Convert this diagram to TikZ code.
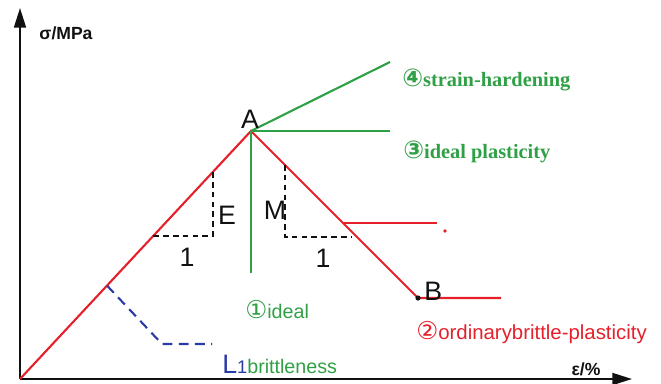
\documentclass[tikz,border=0pt]{standalone}
\usepackage{fontspec}
\setmainfont{Liberation Serif}
\setsansfont{Liberation Sans}
\newfontfamily\circfont{DejaVu Sans}
\usetikzlibrary{arrows.meta}
\definecolor{ink}{HTML}{111111}
\definecolor{curveRed}{HTML}{E5202A}
\definecolor{curveGreen}{HTML}{30A046}
\definecolor{curveBlue}{HTML}{2B3BA6}
\def\xmax{15.3}
\def\ymax{9.275}
\newcommand{\circnum}[1]{{\circfont\fontsize{17.5}{18}\selectfont #1}}

\begin{document}
\begin{tikzpicture}[
    axis/.style={-{Triangle[length=14pt,width=8.5pt]}, line width=1.4pt,
                 draw=ink},
    redcurve/.style={line width=1.5pt, draw=curveRed},
    greencurve/.style={line width=1.5pt, draw=curveGreen},
    bluedash/.style={line width=1.5pt, draw=curveBlue,
                     dash pattern=on 7pt off 4.5pt},
    slopedim/.style={line width=0.8pt, draw=ink,
                     dash pattern=on 4pt off 3pt},
    biglabel/.style={font=\sffamily\fontsize{19}{22}\selectfont,
                     inner sep=0pt, text=ink},
    axislabel/.style={font=\sffamily\bfseries\fontsize{12.5}{14}\selectfont,
                      inner sep=0pt, text=ink},
    ]
\useasboundingbox (-0.5,-0.1) rectangle (16.025,9.475);

% ====================================================================
% Axes
% ====================================================================
\coordinate (O) at (0,0);
\coordinate (xtip) at (\xmax,0);
\coordinate (ytip) at (0,\ymax);
\draw[axis] (O) -- (xtip);
\draw[axis] (O) -- (ytip);
\node[axislabel] (ylab) at (1.15,8.65) {σ/MPa};
\node[axislabel] (xlab) at (14.15,0.25) {ε/\%};

% ====================================================================
% Key points of the curves
% ====================================================================
\coordinate (A) at (5.775,6.2);
\coordinate (B) at (9.95,2.025);
\coordinate (hardEnd) at (9.25,7.925);
\coordinate (plastEnd) at (9.25,6.2);
\coordinate (idealEnd) at (5.775,2.65);
\coordinate (resEnd) at (12.025,2.025);
\coordinate (midStart) at (8.075,3.9);
\coordinate (midEnd) at (10.425,3.9);
\coordinate (L1) at (2.175,2.335);
\coordinate (Lknee) at (3.55,0.875);
\coordinate (Lend) at (4.8,0.875);

% Elastic branch and softening branch (red)
\draw[redcurve] (O) -- (A) -- (B) -- (resEnd);
\draw[redcurve] (midStart) -- (midEnd);
\fill[curveRed] (10.625,3.7) circle (0.045);

% Green branches from the peak
\draw[greencurve] (A) -- (hardEnd);
\draw[greencurve] (A) -- (plastEnd);
\draw[greencurve] (A) -- (idealEnd);

% Brittle branch (blue dashed)
\draw[bluedash] (L1) -- (Lknee) -- (Lend);

% Point B marker
\fill[ink] (B) circle (0.065);

% ====================================================================
% Slope triangles E and M
% ====================================================================
\draw[slopedim] (3.33,3.575) -- (4.825,3.575) -- (4.825,5.18);
\draw[slopedim] (6.625,5.35) -- (6.625,3.55) -- (8.3,3.55);
\node[biglabel] (Elab) at (5.175,4.1) {E};
\node[biglabel] (oneE) at (4.175,3.05) {1};
\node[biglabel] (Mlab) at (6.375,4.225) {M};
\node[biglabel] (oneM) at (7.575,3.025) {1};

% ====================================================================
% Labels
% ====================================================================
\node[biglabel, anchor=south] (Alab) at (5.75,6.25) {A};
\node[biglabel, anchor=base west] (Blab) at (10.1,1.97) {B};

\node[anchor=west, inner sep=0pt, text=curveGreen,
      font=\rmfamily\bfseries\fontsize{14.5}{17}\selectfont]
  (hardlab) at (9.55,7.475) {\circnum{④}strain-hardening};
\node[anchor=west, inner sep=0pt, text=curveGreen,
      font=\rmfamily\bfseries\fontsize{14.5}{17}\selectfont]
  (plastlab) at (9.575,5.675) {\circnum{③}ideal plasticity};
\node[anchor=west, inner sep=0pt, text=curveGreen,
      font=\sffamily\fontsize{14}{17}\selectfont]
  (ideallab) at (5.625,1.725) {\circnum{①}ideal};
\node[anchor=west, inner sep=0pt, text=curveRed,
      font=\sffamily\fontsize{14.5}{17}\selectfont]
  (ordlab) at (9.9,1.15) {\circnum{②}ordinarybrittle-plasticity};
\node[anchor=base west, inner sep=0pt, font=\sffamily]
  (brittlab) at (5.05,0.15)
  {\textcolor{curveBlue}{\fontsize{19}{22}\selectfont L\fontsize{13}{15}\selectfont 1}%
   \textcolor{curveGreen}{\fontsize{14}{17}\selectfont brittleness}};

\end{tikzpicture}
\end{document}
